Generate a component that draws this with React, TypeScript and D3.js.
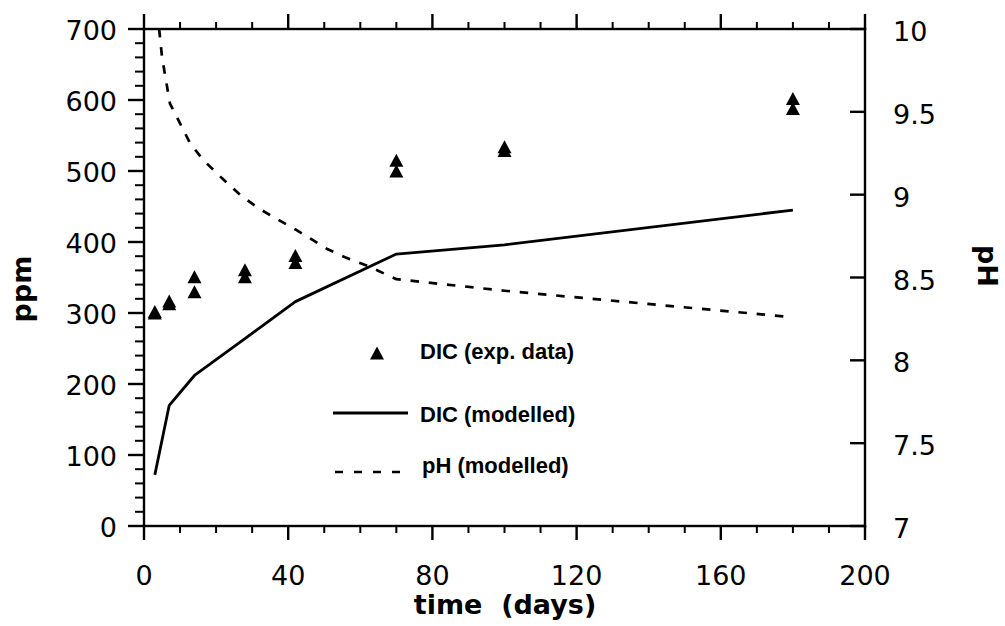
import React from 'react';
import * as d3 from 'd3';

// ---- data ----
const timeTicks = [0, 40, 80, 120, 160, 200];
const timeMinor = [10, 20, 30, 50, 60, 70, 90, 100, 110, 130, 140, 150, 170, 180, 190];
const ppmTicks = [0, 100, 200, 300, 400, 500, 600, 700];
const ppmMinor = [20, 40, 60, 80, 120, 140, 160, 180, 220, 240, 260, 280, 320, 340, 360, 380, 420, 440, 460, 480, 520, 540, 560, 580, 620, 640, 660, 680];
const phTicks = [7, 7.5, 8, 8.5, 9, 9.5, 10];
const phTickLabels = ['7', '7.5', '8', '8.5', '9', '9.5', '10'];

// DIC experimental data (duplicates at each sampling time)
const expTime = [3, 3, 7, 7, 14, 14, 28, 28, 42, 42, 70, 70, 100, 100, 180, 180];
const expDIC = [300, 302, 313, 317, 330, 351, 351, 361, 371, 381, 500, 515, 529, 534, 588, 602];

// DIC modelled
const modelTime = [3, 7, 14, 28, 42, 70, 100, 180];
const modelDIC = [72, 170, 212, 264, 316, 383, 396, 445];

// pH modelled
const phTime = [4.2, 5, 7.2, 10, 12.8, 16.4, 21.6, 26.6, 31.6, 36.3, 42, 51, 56, 62, 70, 100, 180];
const phModel = [10, 9.83, 9.55, 9.43, 9.31, 9.21, 9.1, 9.0, 8.92, 8.86, 8.79, 8.67, 8.62, 8.57, 8.49, 8.42, 8.26];

const legendLabels = ['DIC (exp. data)', 'DIC (modelled)', 'pH (modelled)'];

const W = 1005;
const H = 626;
const X0 = 144, X1 = 865, YT = 29, YB = 526;

const tickFont = "'DejaVu Sans', Verdana, sans-serif";
const legendFont = "'Liberation Sans', Arial, sans-serif";

export default function App() {
  const x = d3.scaleLinear().domain([0, 200]).range([X0, X1]);
  const yL = d3.scaleLinear().domain([0, 700]).range([YB, YT]);
  const yR = d3.scaleLinear().domain([7, 10]).range([YB, YT]);

  const dicLine = d3
    .line<number>()
    .x((_, i) => x(modelTime[i]))
    .y((d) => yL(d))(modelDIC) as string;
  const phLine = d3
    .line<number>()
    .x((_, i) => x(phTime[i]))
    .y((d) => yR(d))(phModel) as string;

  const tri = 'M0,-6.5L7,6.5L-7,6.5Z';
  const sw = 2.4;
  const mw = 2;

  return (
    <svg width={W} height={H} style={{ position: 'absolute', left: 0, top: 0 }}>
      <rect x={0} y={0} width={W} height={H} fill="#fff" />

      {/* texts */}
      {ppmTicks.map((v) => (
        <text key={'ll' + v} x={117} y={yL(v) + 11} textAnchor="end" fontFamily={tickFont} fontSize={27}>
          {v}
        </text>
      ))}
      {phTicks.map((v, i) => (
        <text key={'rl' + v} x={893} y={yR(v) + 12} fontFamily={tickFont} fontSize={27}>
          {phTickLabels[i]}
        </text>
      ))}
      {timeTicks.map((v) => (
        <text key={'bl' + v} x={x(v)} y={585} textAnchor="middle" fontFamily={tickFont} fontSize={27}>
          {v}
        </text>
      ))}
      <text x={420} y={359} fontFamily={legendFont} fontWeight="bold" fontSize={22}>
        {legendLabels[0]}
      </text>
      <text x={420} y={422} fontFamily={legendFont} fontWeight="bold" fontSize={22}>
        {legendLabels[1]}
      </text>
      <text x={422} y={473} fontFamily={legendFont} fontWeight="bold" fontSize={22}>
        {legendLabels[2]}
      </text>
      <text
        x={505}
        y={614}
        textAnchor="middle"
        fontFamily={tickFont}
        fontWeight="bold"
        fontSize={27}
        style={{ whiteSpace: 'pre' }}
      >
        {'time  (days)'}
      </text>
      <text transform="translate(31,289) rotate(-90)" textAnchor="middle" fontFamily={tickFont} fontWeight="bold" fontSize={27}>
        ppm
      </text>
      <text transform="translate(978,266) rotate(90)" textAnchor="middle" fontFamily={tickFont} fontWeight="bold" fontSize={27}>
        pH
      </text>

      {/* data */}
      <path d={dicLine} fill="none" stroke="#000" strokeWidth={2.8} strokeLinejoin="round" />
      <path d={phLine} fill="none" stroke="#000" strokeWidth={2.7} strokeDasharray="8.5,9.8" />
      {expDIC.map((v, i) => (
        <path key={'p' + i} d={tri} transform={`translate(${x(expTime[i])},${yL(v)})`} fill="#000" />
      ))}

      {/* legend marks */}
      <path d={tri} transform="translate(377,353)" fill="#000" />
      <line x1={333} x2={408} y1={413} y2={413} stroke="#000" strokeWidth={2.8} />
      <line x1={335} x2={401} y1={472} y2={472} stroke="#000" strokeWidth={2.7} strokeDasharray="8,11" />

      {/* frame and ticks, drawn last */}
      <rect x={X0 - sw / 2} y={YT - sw / 2} width={X1 - X0 + sw} height={sw} fill="#000" />
      <rect x={X0 - sw / 2} y={YB - sw / 2} width={X1 - X0 + sw} height={sw} fill="#000" />
      <rect x={X0 - sw / 2} y={YT - sw / 2} width={sw} height={YB - YT + sw} fill="#000" />
      <rect x={X1 - sw / 2} y={YT - sw / 2} width={sw} height={YB - YT + sw} fill="#000" />
      {ppmMinor.map((v) => (
        <rect key={'lm' + v} x={X0 - 9} y={yL(v) - mw / 2} width={9} height={mw} fill="#000" />
      ))}
      {ppmTicks.map((v) => (
        <rect key={'lM' + v} x={X0 - 16} y={yL(v) - sw / 2} width={16} height={sw} fill="#000" />
      ))}
      {phTicks.map((v) => (
        <rect key={'rM' + v} x={X1 - 15} y={yR(v) - sw / 2} width={15} height={sw} fill="#000" />
      ))}
      {timeMinor.map((v) => (
        <g key={'tm' + v}>
          <rect x={x(v) - mw / 2} y={YB} width={mw} height={7} fill="#000" />
          <rect x={x(v) - mw / 2} y={YT - 7} width={mw} height={7} fill="#000" />
        </g>
      ))}
      {timeTicks.map((v) => (
        <g key={'tM' + v}>
          <rect x={x(v) - sw / 2} y={YB} width={sw} height={14} fill="#000" />
          <rect x={x(v) - sw / 2} y={YT - 15} width={sw} height={15} fill="#000" />
        </g>
      ))}
    </svg>
  );
}
